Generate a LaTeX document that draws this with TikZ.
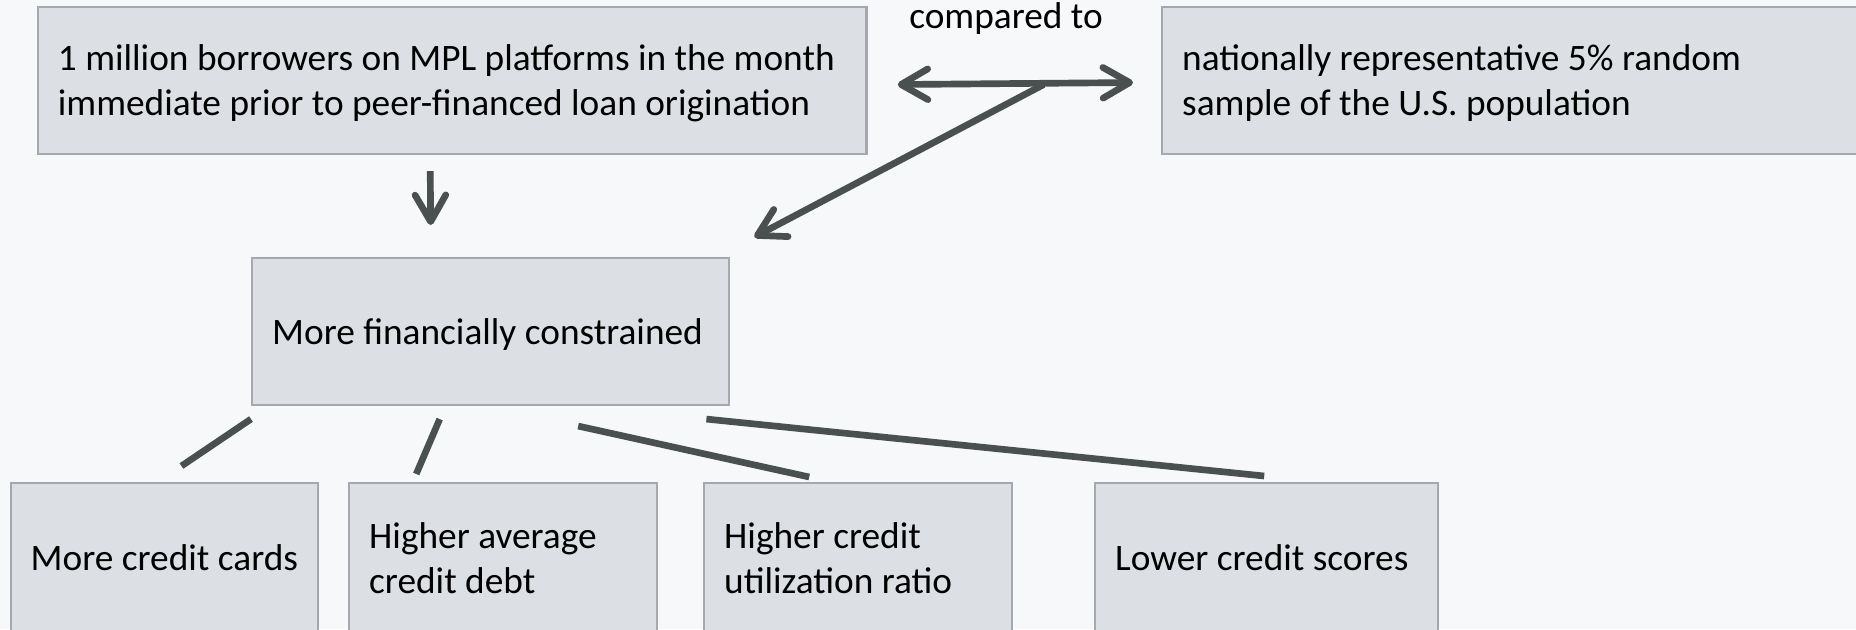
\documentclass[tikz,border=0pt]{standalone}
\usepackage{fontspec}
\setmainfont{Carlito}
\usetikzlibrary{arrows.meta,calc}
\definecolor{bgcol}{RGB}{247,248,250}
\definecolor{boxfill}{RGB}{220,224,228}
\definecolor{boxline}{RGB}{165,169,173}
\definecolor{linkcol}{RGB}{74,80,80}
% struts for line box of the first and last text line
\newcommand{\topstrut}{\rule{0pt}{0.95em}}
\newcommand{\botstrut}{\rule[-0.27em]{0pt}{0pt}}
\begin{document}
\begin{tikzpicture}[x=0.75pt,y=0.75pt,yscale=-1,xscale=1,
  blockbox/.style={draw=boxline,fill=boxfill,line width=1.8pt,rectangle,
    anchor=north west,inner xsep=15pt,inner ysep=0pt,align=left,
    minimum height=110pt,font=\fontsize{28}{33.75}\selectfont,
    execute at begin node={\spaceskip=0pt\xspaceskip=0pt\relax}},
  lowbox/.style={blockbox,minimum height=112.5pt},
  link/.style={draw=linkcol,line width=5pt},
  arrowlink/.style={link,-{Straight Barb[length=20pt,width=23pt,round]}}]
%set diagram size and background
\path[use as bounding box,fill=bgcol] (0,0) rectangle (1856,629);

% Top boxes
\node[blockbox,text width=591.5pt] (src) at (36.7,6) {\topstrut\mbox{1 million borrowers on MPL platforms in the month}\\\mbox{immediate prior to peer-financed loan origination}\botstrut};
\node[blockbox,text width=510pt] (pop) at (1161,6) {\topstrut\mbox{nationally representative 5\% random}\\\mbox{sample of the U.S. population}\botstrut};
% Text Node
\node[anchor=base,inner sep=0pt,font=\fontsize{28}{33.75}\selectfont] (cmp) at (1006,28) {compared to};

% Middle box
\node[blockbox,text width=327.75pt] (mid) at (251,257) {\topstrut\mbox{More financially constrained}\botstrut};

% Bottom boxes
\node[lowbox,text width=200.6pt] (cards) at (9.5,482) {\topstrut\mbox{More credit cards}\botstrut};
\node[lowbox,text width=201pt] (debt) at (348,482) {\topstrut\mbox{Higher average}\\\mbox{credit debt}\botstrut};
\node[lowbox,text width=201pt] (util) at (703,482) {\topstrut\mbox{Higher credit}\\\mbox{utilization ratio}\botstrut};
\node[lowbox,text width=227.25pt] (score) at (1094,482) {\topstrut\mbox{Lower credit scores}\botstrut};

%Double arrow and fork
\coordinate (fork) at ($(src.east)!0.6!(pop.west)+(0,4)$);
\draw[arrowlink,{Straight Barb[length=20pt,width=23pt,round]}-{Straight Barb[length=20pt,width=23pt,round]}] ($(src.east)+(30,4)$) -- ($(pop.west)+(-28,2)$);
\draw[arrowlink] (fork) -- ($(mid.north east)+(24,-20)$);
%Down arrow
\draw[arrowlink] ($(src.south)+(-22,16)$) -- ($(mid.north)+(-60,-32)$);

%Straight Lines
\draw[link] ($(mid.south west)+(0,13)$) -- ($(cards.north)+(17,-16)$);
\draw[link] ($(mid.south)+(-51,13)$) -- ($(debt.north)+(-87,-8)$);
\draw[link] ($(mid.south)+(87.5,20)$) -- ($(util.north)+(-49,-5)$);
\draw[link] ($(mid.south east)+(-24,13)$) -- ($(score.north)+(-2.5,-6)$);
\end{tikzpicture}
\end{document}
